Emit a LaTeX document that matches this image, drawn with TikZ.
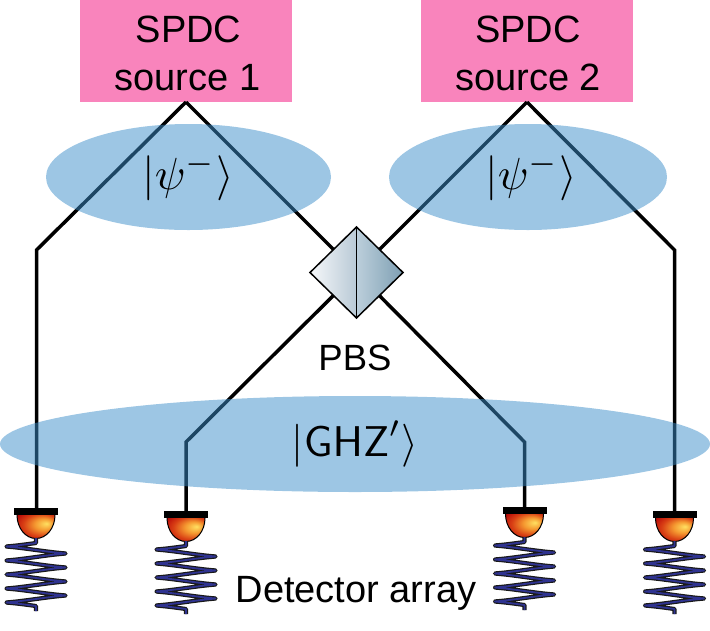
\documentclass[tikz,border=0pt]{standalone}
\usepackage[no-math]{fontspec}
\newfontfamily\labelfont{Liberation Sans}
\usepackage{amsmath}
\definecolor{srcpink}{HTML}{F984BC}
\definecolor{stateblue}{HTML}{3B8DC9}
\definecolor{coilblue}{HTML}{2F3390}
\definecolor{pbsa}{HTML}{F6F8FA}
\definecolor{pbsb}{HTML}{B9CAD6}
\definecolor{pbsc}{HTML}{BCCFDB}
\definecolor{pbsd}{HTML}{7E9FB3}
\pgfdeclareradialshading{detball}{\pgfpoint{14bp}{7bp}}{%
  rgb(0bp)=(1,0.88,0.38);
  rgb(12bp)=(0.96,0.60,0.19);
  rgb(24bp)=(0.85,0.25,0.08);
  rgb(36bp)=(0.72,0.03,0.03);
  rgb(50bp)=(0.72,0.03,0.03)}
\newcommand{\srcline}[2]{\hspace*{#1}#2}
\tikzset{
	x=1pt,
	y=-1pt,
	source/.style={fill=srcpink, minimum width=212pt, minimum height=102pt, inner sep=0pt, anchor=south, align=center, font=\labelfont\fontsize{38}{48}\selectfont},
	beam/.style={line width=3.5pt, line join=miter},
	state/.style={fill=stateblue, opacity=0.5},
	caption/.style={font=\labelfont\fontsize{38}{42}\selectfont, inner sep=0pt},
	detector/.pic={
		\shade[shading=detball] (-19,7) arc[start angle=180, end angle=0, x radius=19, y radius=23.5] -- cycle;
		\draw[line width=1pt] (-19,7) arc[start angle=180, end angle=0, x radius=19, y radius=23.5];
		\fill (-22,0) rectangle (22,7);
		\draw[line width=4.2pt, line join=round, black!90] (0,30) -- (0,35) -- plot[domain=-90:1530, samples=240] ({-29.5*cos(\x)}, {35+(\x+90)/360*14-0.9*sin(2*\x)}) -- (0,103);
		\draw[line width=1.8pt, line join=round, coilblue] (0,30) -- (0,35) -- plot[domain=-90:1530, samples=240] ({-29.5*cos(\x)}, {35+(\x+90)/360*14-0.9*sin(2*\x)}) -- (0,103);
	},
}
\begin{document}
\begin{tikzpicture}
      \useasboundingbox (0,0) rectangle (710,630);

      \node[source] (src1) at (186,102) {\rule{0pt}{32pt}\srcline{5pt}{SPDC}\\\srcline{3pt}{source 1}};
      \node[source] (src2) at (527,102) {\rule{0pt}{32pt}\srcline{2pt}{SPDC}\\\srcline{2pt}{source 2}};

      \coordinate (pbs) at (356.5,272.5);
      \coordinate (bend1) at (36.5,250);
      \coordinate (bend2) at (674.5,250);
      \coordinate (bend3) at (186,442);
      \coordinate (bend4) at (524.5,442);
      \coordinate (det1) at (36,508);
      \coordinate (det2) at (186,511);
      \coordinate (det3) at (524.5,507);
      \coordinate (det4) at (674.5,511);

      % beams
      \draw[beam] (src1.south) -- (bend1) -- (bend1 |- det1);
      \draw[beam] (src1.south) -- (pbs);
      \draw[beam] (src2.south) -- (pbs);
      \draw[beam] (src2.south) -- (bend2) -- (det4);
      \draw[beam] (pbs) -- (bend3) -- (det2);
      \draw[beam] (pbs) -- (bend4) -- (det3);

      % beam splitter
      \shade[left color=pbsa, right color=pbsb] (356.5,227) -- (310,272.5) -- (356.5,318) -- cycle;
      \shade[left color=pbsc, right color=pbsd] (356.5,227) -- (403,272.5) -- (356.5,318) -- cycle;
      \draw[line width=1.5pt, line join=miter] (356.5,227) -- (403,272.5) -- (356.5,318) -- (310,272.5) -- cycle;
      \draw[line width=1.5pt] (356.5,227) -- (356.5,318);
      \node[caption] (pbslabel) at (355,358) {\fontsize{36.5}{42}\selectfont PBS};

      % entangled states
      \fill[state] (188.5,177) ellipse [x radius=142.5, y radius=53];
      \fill[state] (528,177) ellipse [x radius=139, y radius=53];
      \fill[state] (355,444) ellipse [x radius=355, y radius=48];
      \node[inner sep=0pt, scale=4.5] (psi1) at (188,177) {$|\psi^-\rangle$};
      \node[inner sep=0pt, scale=4.5] (psi2) at (531,177) {$|\psi^-\rangle$};
      \node[inner sep=0pt, scale=4.3] (ghz) at (355,444) {$|\mathsf{GHZ}'\rangle$};

      \foreach \d in {det1,det2,det3,det4}
        \pic at (\d) {detector};

      \node[caption] (array) at (356,593) {Detector array};
\end{tikzpicture}
\end{document}
